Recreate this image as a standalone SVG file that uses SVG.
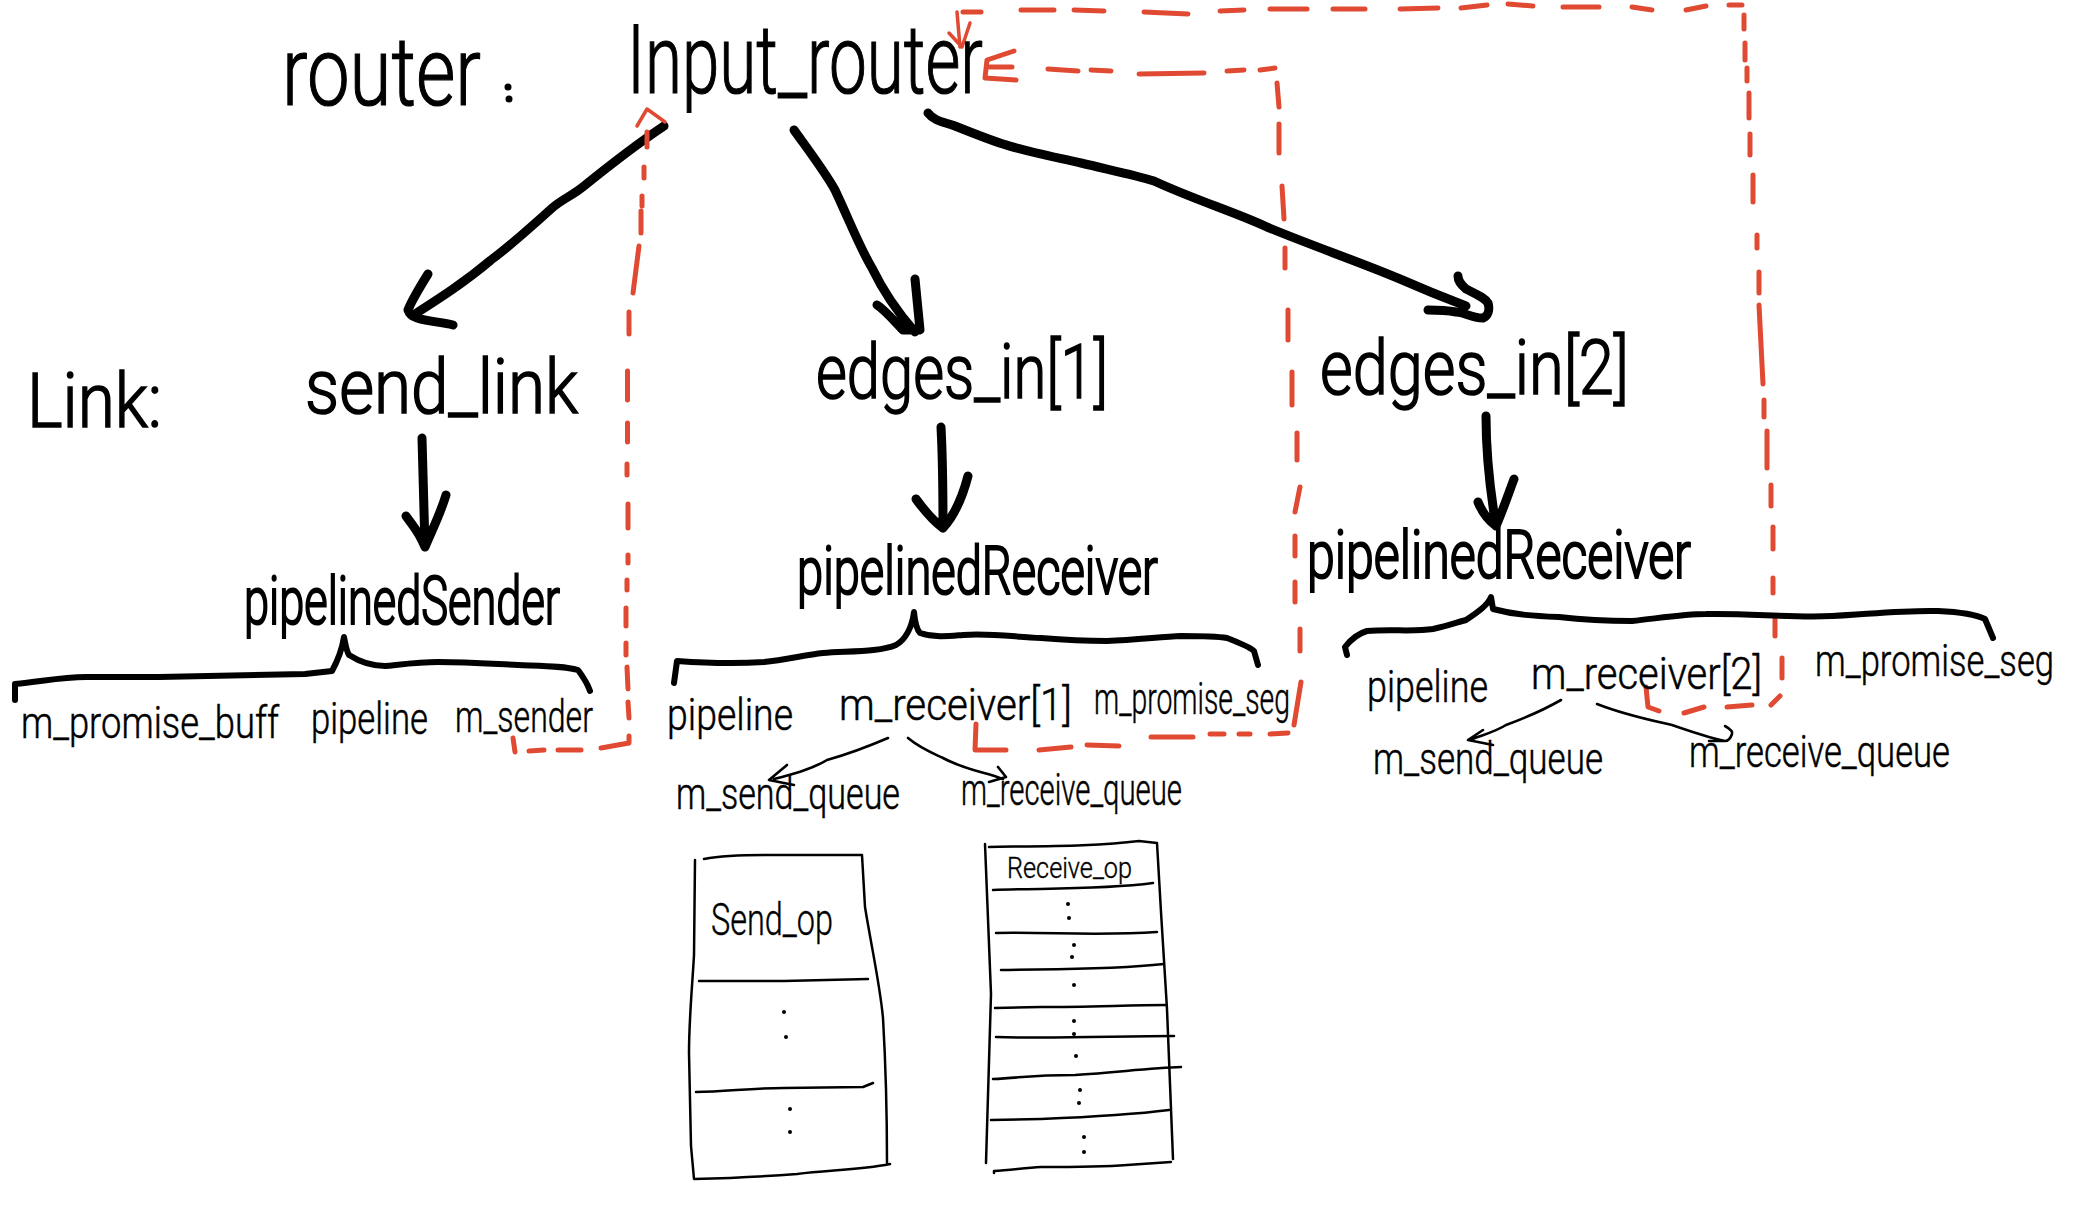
<svg xmlns="http://www.w3.org/2000/svg" width="2083" height="1218" viewBox="0 0 2083 1218">
<defs><style>
text{font-family:"Roboto","Liberation Sans",sans-serif;font-weight:300;fill:#000;stroke:#000}
.h1{font-size:96px;stroke-width:1.2px}
.h2{font-size:76px;stroke-width:1.6px}
.h3{font-size:66px;stroke-width:2.2px}
.s{font-size:44px;stroke-width:.5px}
.t{font-size:44px;stroke-width:.4px}
.t2{font-size:30px;stroke-width:.4px}
.k,.th,.tn,.b,.r,.rh{fill:none;stroke-linecap:round;stroke-linejoin:round}
.k{stroke:#000;stroke-width:9px}
.b{stroke:#000;stroke-width:6px}
.th{stroke:#000;stroke-width:2.5px}
.tn{stroke:#000;stroke-width:2.6px}
.r{stroke:#e04a33;stroke-width:5px}
.rh{stroke:#e04a33;stroke-width:3.5px}
.d{fill:#000}
</style></defs>
<rect width="2083" height="1218" fill="#fff"/>
<g id="connectors">
<path class="k" d="M664 126C640 142 610 165 584 186C572 196 562 199 551 209C530 228 510 246 491 260C465 282 440 298 415 314M428 274C418 290 412 300 408 310C410 316 414 317 417 318C430 322 442 322 453 325"/>
<path class="k" d="M794 130C812 155 825 172 835 190C850 222 860 248 872 268C885 295 900 315 915 332M915 279L920 330L903 330C895 322 885 310 877 305"/>
<path class="k" d="M928 113C935 122 945 122 955 126C975 134 990 140 1003 144C1020 150 1050 156 1081 163C1110 170 1135 175 1154 181C1195 200 1235 212 1267 227C1310 245 1360 262 1400 279C1425 290 1445 298 1466 306M1458 276C1458 282 1462 285 1466 289C1478 295 1485 298 1488 303C1490 310 1488 316 1483 318C1470 318 1465 312 1456 312C1445 310 1436 310 1428 310"/>
<path class="k" d="M422 438L425 547M446 495C440 515 432 530 425 547C418 530 412 525 406 516"/>
<path class="k" d="M941 427C943 465 943 495 943 528M968 476C963 495 955 515 943 528C932 520 924 510 916 499"/>
<path class="k" d="M1486 416C1486 455 1490 490 1496 526M1514 479C1508 495 1503 510 1496 526C1488 520 1482 512 1478 502"/>
<path class="tn" d="M888 738C860 750 845 755 827 760C810 770 790 775 774 779M787 765L769 780L794 785"/>
<path class="tn" d="M908 738C920 748 930 752 943 758C965 770 985 772 1003 779M998 767L1006 777L989 782"/>
<path class="tn" d="M1561 700C1540 712 1525 718 1506 725C1495 732 1482 735 1470 740M1483 730L1468 740L1493 745"/>
<path class="tn" d="M1597 704C1625 715 1650 720 1672 725C1695 733 1710 738 1725 741M1725 726C1732 730 1733 732 1732 734C1730 740 1727 741 1725 741L1709 741"/>
<path class="r" d="M647 132L647 147M644 167L644 178M642 196L642 206M641 211L641 233M639 246L633 293M629 312L629 334M627.500 371L627.500 400M627.500 423L627.500 442M627 464L627 475M628 504L628 528M628 555L628 563M627 580L627 590M626 608L626 626M626 643L626 655M627 667L628 689M628 702L629 718M629 736L629 743L601 748M581 750L558 750M544 750L529 751M515 752L513 738"/>
<path class="rh" d="M637 126L647 109L665 122"/>
<path class="r" d="M976 724L975 750L1006 750M1039 750L1071 747M1087 745L1119 746M1151 737L1193 737M1210 734L1224 734M1239 734L1250 734M1270 734L1288 733M1294 725L1301 682M1300 651L1300 629M1295 602L1295 582M1295 556L1295 536M1295 512L1300 487M1297 460L1297 433M1292 405L1292 372M1288 340L1288 310M1285 268L1285 248M1284 219L1282 186M1279 153L1279 124M1279 107L1277 83M1275 68L1260 70M1244 70L1227 71M1204 73L1139 74M1111 71L1091 70M1078 71L1048 69"/>
<path class="r" d="M1014 51L987 60L985 78L1016 80M990 67L1012 67"/>
<path class="r" d="M1646 687L1648 707L1659 711M1684 713L1704 707M1727 707L1752 705M1771 705L1780 696M1782 678L1782 658M1775 636L1775 616M1773 593L1773 578M1773 549L1773 527M1771 506L1771 485M1767 468L1767 431M1764 417L1764 400M1763 384L1759 305M1759 293L1759 272M1757 248L1757 235M1753 202L1753 175M1750 155L1750 134M1749 118L1749 93M1747 81L1747 68M1745 60L1745 43M1744 29L1744 15M1742 5L1729 5M1706 6L1686 10M1652 10L1632 7M1599 7L1563 7M1533 6L1508 4M1487 5L1461 8M1438 8L1400 9M1365 9L1333 9M1307 9L1270 9M1244 10L1220 11M1188 14L1144 12M1104 11L1074 10M1054 10L1021 10M981 12L963 12"/>
<path class="rh" d="M957 12L960 47M949 33L962 47L970 23"/>
</g>
<g id="title-router"><text class="h1" x="282" y="105" textLength="199" lengthAdjust="spacingAndGlyphs">router</text><circle class="d" cx="508" cy="87" r="3.500"/><circle class="d" cx="509" cy="99" r="3.500"/></g>
<g id="input-router"><text class="h1" x="627" y="93" textLength="356" lengthAdjust="spacingAndGlyphs">Input_router</text></g>
<g id="title-link"><text class="h2" x="27" y="427" textLength="135" lengthAdjust="spacingAndGlyphs">Link:</text></g>
<g id="send-link"><text class="h2" x="305" y="413" textLength="273" lengthAdjust="spacingAndGlyphs">send_link</text></g>
<g id="edges-in-1"><text class="h2" x="816" y="398" textLength="292" lengthAdjust="spacingAndGlyphs">edges_in[1]</text></g>
<g id="edges-in-2"><text class="h2" x="1320" y="394" textLength="309" lengthAdjust="spacingAndGlyphs">edges_in[2]</text></g>
<g id="pipelined-sender"><text class="h3" x="244" y="624" textLength="316" lengthAdjust="spacingAndGlyphs">pipelinedSender</text><path class="b" d="M15 700L15 684C40 682 60 677 86 677L159 677L305 674L332 671C338 660 342 650 344 637C346 648 347 652 349 655C360 662 372 666 385 666C405 664 420 662 438 662C470 662 495 664 518 665C545 666 565 666 578 670C584 678 588 685 590 691"/></g>
<g id="pipelined-receiver-1"><text class="h3" x="797" y="594" textLength="361" lengthAdjust="spacingAndGlyphs">pipelinedReceiver</text><path class="b" d="M674 683L677 661C705 663 735 664 764 662C785 660 805 655 823 653C850 651 880 652 896 645C905 640 912 628 914 612C915 622 917 630 920 633C935 638 950 636 963 635C990 633 1015 637 1041 638C1065 640 1085 641 1107 641C1135 640 1160 637 1181 636C1200 636 1215 636 1227 638C1240 643 1250 647 1254 651L1258 665"/></g>
<g id="pipelined-receiver-2"><text class="h3" x="1307" y="578" textLength="384" lengthAdjust="spacingAndGlyphs">pipelinedReceiver</text><path class="b" d="M1347 655L1345 647C1352 638 1360 633 1367 631C1390 629 1415 632 1433 629C1448 626 1458 622 1466 620C1478 612 1488 605 1491 597L1493 609C1515 615 1535 616 1559 617C1585 620 1610 621 1632 621C1660 618 1685 614 1706 614C1750 613 1790 618 1832 616C1870 614 1905 610 1938 611C1960 612 1975 614 1985 619L1993 638"/></g>
<g id="m-promise-buff"><text class="s" x="21" y="738" textLength="258" lengthAdjust="spacingAndGlyphs">m_promise_buff</text></g>
<g id="pipeline-s"><text class="s" x="311" y="734" textLength="117" lengthAdjust="spacingAndGlyphs">pipeline</text></g>
<g id="m-sender"><text class="s" x="455" y="732" textLength="138" lengthAdjust="spacingAndGlyphs">m_sender</text></g>
<g id="pipeline-r1"><text class="s" x="667" y="730" textLength="126" lengthAdjust="spacingAndGlyphs">pipeline</text></g>
<g id="m-receiver-1"><text class="s" x="839" y="720" textLength="233" lengthAdjust="spacingAndGlyphs">m_receiver[1]</text></g>
<g id="m-promise-seg-1"><text class="s" x="1094" y="714" textLength="196" lengthAdjust="spacingAndGlyphs">m_promise_seg</text></g>
<g id="m-send-queue-1"><text class="s" x="676" y="809" textLength="224" lengthAdjust="spacingAndGlyphs">m_send_queue</text></g>
<g id="m-receive-queue-1"><text class="s" x="961" y="805" textLength="221" lengthAdjust="spacingAndGlyphs">m_receive_queue</text></g>
<g id="pipeline-r2"><text class="s" x="1367" y="702" textLength="121" lengthAdjust="spacingAndGlyphs">pipeline</text></g>
<g id="m-receiver-2"><text class="s" x="1531" y="689" textLength="231" lengthAdjust="spacingAndGlyphs">m_receiver[2]</text></g>
<g id="m-promise-seg-2"><text class="s" x="1815" y="676" textLength="239" lengthAdjust="spacingAndGlyphs">m_promise_seg</text></g>
<g id="m-send-queue-2"><text class="s" x="1373" y="774" textLength="230" lengthAdjust="spacingAndGlyphs">m_send_queue</text></g>
<g id="m-receive-queue-2"><text class="s" x="1689" y="767" textLength="261" lengthAdjust="spacingAndGlyphs">m_receive_queue</text></g>
<g id="send-op-table">
<path class="th" d="M695 860L694 955C692 990 689 1020 689 1053L691 1146L694 1179C730 1178 770 1176 797 1174C830 1170 860 1170 890 1164M704 859C725 855 745 855 764 855L862 855L865 907C872 950 880 985 883 1018C886 1070 887 1115 887 1163"/>
<path class="th" d="M699 981L784 981L868 979M696 1092C725 1092 750 1088 784 1088L863 1087L873 1083"/>
<text class="t" x="711" y="935" textLength="122" lengthAdjust="spacingAndGlyphs">Send_op</text>
<circle class="d" cx="784" cy="1012" r="2"/><circle class="d" cx="786" cy="1037" r="2"/><circle class="d" cx="790" cy="1109" r="2"/><circle class="d" cx="790" cy="1132" r="2"/>
</g>
<g id="receive-op-table">
<path class="th" d="M985 844L991 994L986 1163M994 1173L994 1171C1010 1170 1025 1168 1041 1167C1070 1167 1100 1167 1127 1165L1171 1162M989 847C1050 846 1100 846 1139 841L1157 843L1161 912L1167 1009L1173 1159"/>
<path class="th" d="M993 890C1040 888 1100 890 1153 883M996 933C1050 932 1100 936 1157 932M1001 970C1050 969 1110 970 1164 964M995 1008L1041 1007C1090 1007 1130 1005 1166 1005M996 1037C1050 1039 1120 1036 1174 1036M993 1079C1020 1078 1030 1075 1075 1075C1120 1072 1150 1068 1181 1067M991 1120L1041 1119C1090 1117 1130 1115 1169 1110"/>
<text class="t2" x="1007" y="878" textLength="125" lengthAdjust="spacingAndGlyphs">Receive_op</text>
<circle class="d" cx="1068" cy="904" r="2"/><circle class="d" cx="1069" cy="918" r="2"/><circle class="d" cx="1074" cy="945" r="2"/><circle class="d" cx="1072" cy="957" r="2"/><circle class="d" cx="1074" cy="985" r="2"/><circle class="d" cx="1074" cy="1021" r="2"/><circle class="d" cx="1074" cy="1034" r="2"/><circle class="d" cx="1076" cy="1056" r="2"/><circle class="d" cx="1080" cy="1090" r="2"/><circle class="d" cx="1079" cy="1103" r="2"/><circle class="d" cx="1084" cy="1137" r="2"/><circle class="d" cx="1084" cy="1152" r="2"/>
</g>
</svg>
